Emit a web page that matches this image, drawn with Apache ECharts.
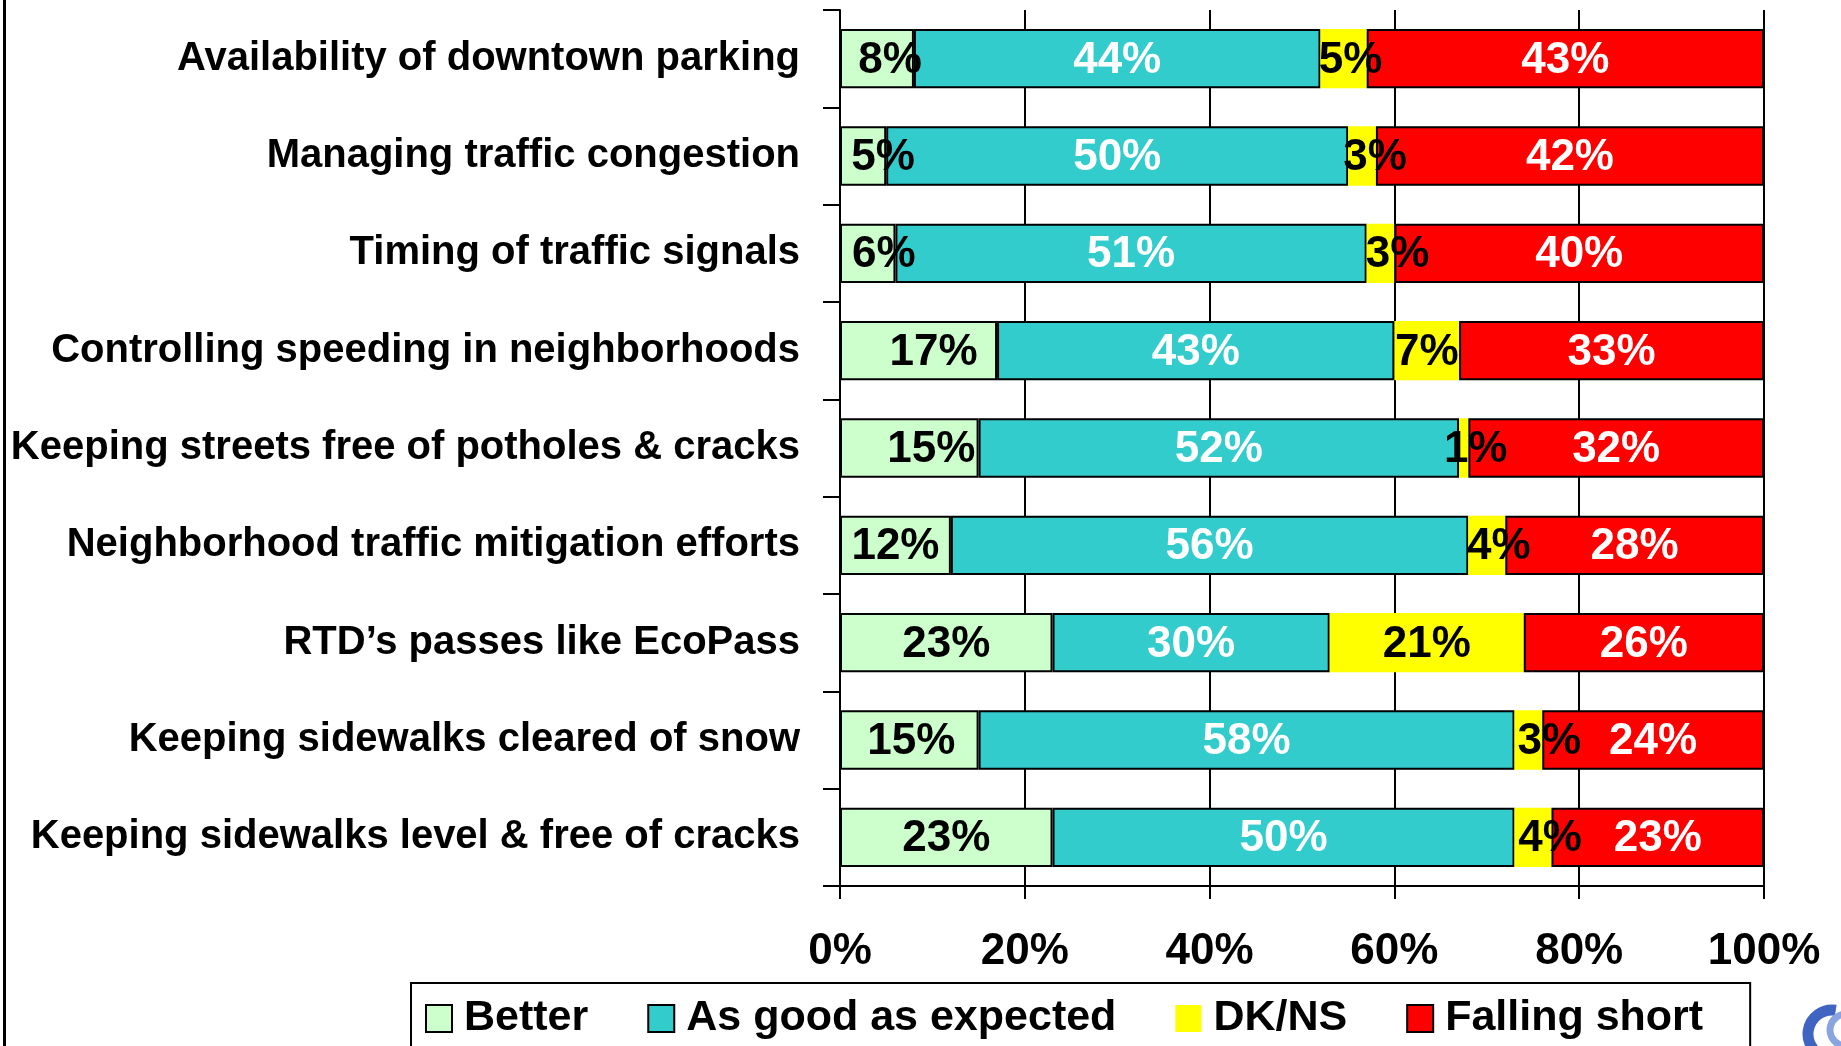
<!DOCTYPE html>
<html>
<head>
<meta charset="utf-8">
<script src="https://cdn.jsdelivr.net/npm/echarts@6/dist/echarts.min.js"></script>
<style>
html,body{margin:0;padding:0;background:#fff;}
#chart{width:1841px;height:1046px;}
</style>
</head>
<body>
<div id="chart"></div>
<script>
const categories = [
  "Availability of downtown parking",
  "Managing traffic congestion",
  "Timing of traffic signals",
  "Controlling speeding in neighborhoods",
  "Keeping streets free of potholes & cracks",
  "Neighborhood traffic mitigation efforts",
  "RTD’s passes like EcoPass",
  "Keeping sidewalks cleared of snow",
  "Keeping sidewalks level & free of cracks"
];
const better        = [8, 5, 6, 17, 15, 12, 23, 15, 23];
const asGood        = [44, 50, 51, 43, 52, 56, 30, 58, 50];
const dkns          = [5, 3, 3, 7, 1, 4, 21, 3, 4];
const fallingShort  = [43, 42, 40, 33, 32, 28, 26, 24, 23];
const xTicks = [0, 20, 40, 60, 80, 100];

// horizontal nudges of value labels (px), as placed in the original
const betterLabelNudge = [13, 20, 16, 15, 22, 0, 0, 2, 0];
const dknsLabelNudge   = [7, 13, 17, 0, 12, 12, 0, 21, 17];

const FONT = "'Liberation Sans', Arial, sans-serif";
const LABEL_DY = 2;

function mkSeries(name, data, color, labelColor, border, nudge) {
  return {
    name: name,
    type: 'bar',
    stack: 'total',
    data: data.map(function (v, i) {
      const item = { value: v };
      if (nudge && nudge[i]) item.label = { offset: [nudge[i], LABEL_DY] };
      return item;
    }),
    barCategoryGap: '39%',
    itemStyle: {
      color: color,
      borderColor: border ? '#000' : color,
      borderWidth: border ? 2 : 0
    },
    label: {
      show: true,
      position: 'inside',
      offset: [0, LABEL_DY],
      formatter: '{c}%',
      color: labelColor,
      fontFamily: FONT,
      fontWeight: 'bold',
      fontSize: 44,
      textBorderWidth: 0
    },
    emphasis: { disabled: true },
    z: 3
  };
}

const chart = echarts.init(document.getElementById('chart'), null, {renderer: 'canvas'});
chart.setOption({
  animation: false,
  backgroundColor: '#fff',
  grid: { left: 840, right: 77, top: 10, bottom: 160, containLabel: false },
  xAxis: {
    type: 'value',
    min: 0, max: 100, interval: 20,
    axisLine: { show: true, lineStyle: { color: '#000', width: 2 } },
    axisTick: { show: true, length: 13, lineStyle: { color: '#000', width: 2 } },
    splitLine: { show: true, lineStyle: { color: '#000', width: 2 } },
    axisLabel: {
      margin: 44,
      formatter: function (v) { return xTicks.indexOf(v) >= 0 ? v + '%' : ''; },
      color: '#000', fontFamily: FONT, fontWeight: 'bold', fontSize: 44
    }
  },
  yAxis: {
    type: 'category',
    inverse: true,
    data: categories,
    axisLine: { show: true, lineStyle: { color: '#000', width: 2 } },
    axisTick: { show: true, length: 17, lineStyle: { color: '#000', width: 2 } },
    splitLine: { show: false },
    axisLabel: {
      margin: 40,
      padding: [10, 0, 0, 0],
      color: '#000', fontFamily: FONT, fontWeight: 'bold', fontSize: 40
    }
  },
  legend: {
    left: 411, top: 983,
    orient: 'horizontal',
    padding: [14, 47, 30, 14],
    itemGap: 59,
    itemWidth: 26, itemHeight: 27,
    borderColor: '#000', borderWidth: 2,
    backgroundColor: '#fff',
    selectedMode: false,
    icon: 'rect',
    textStyle: { color: '#000', fontFamily: FONT, fontWeight: 'bold', fontSize: 43, padding: [0, 0, 0, 7] },
    data: ['Better', 'As good as expected', 'DK/NS', 'Falling short']
  },
  graphic: [
    { type: 'rect', left: 3, top: 0, shape: { width: 3, height: 1046 }, style: { fill: '#000' }, silent: true },
    { type: 'arc', shape: { cx: 1832, cy: 1034, r: 24, startAngle: Math.PI * 0.55, endAngle: Math.PI * 1.55 },
      style: { stroke: '#3f64c2', lineWidth: 11, fill: null }, silent: true },
    { type: 'arc', shape: { cx: 1846, cy: 1030, r: 16, startAngle: Math.PI * 0.6, endAngle: Math.PI * 1.5 },
      style: { stroke: '#8aa4e0', lineWidth: 7, fill: null }, silent: true }
  ],
  series: [
    mkSeries('Better', better, '#CCFFCC', '#000', true, betterLabelNudge),
    mkSeries('As good as expected', asGood, '#33CCCC', '#fff', true, null),
    mkSeries('DK/NS', dkns, '#FFFF00', '#000', false, dknsLabelNudge),
    mkSeries('Falling short', fallingShort, '#FF0000', '#fff', true, null)
  ]
});
</script>
</body>
</html>
